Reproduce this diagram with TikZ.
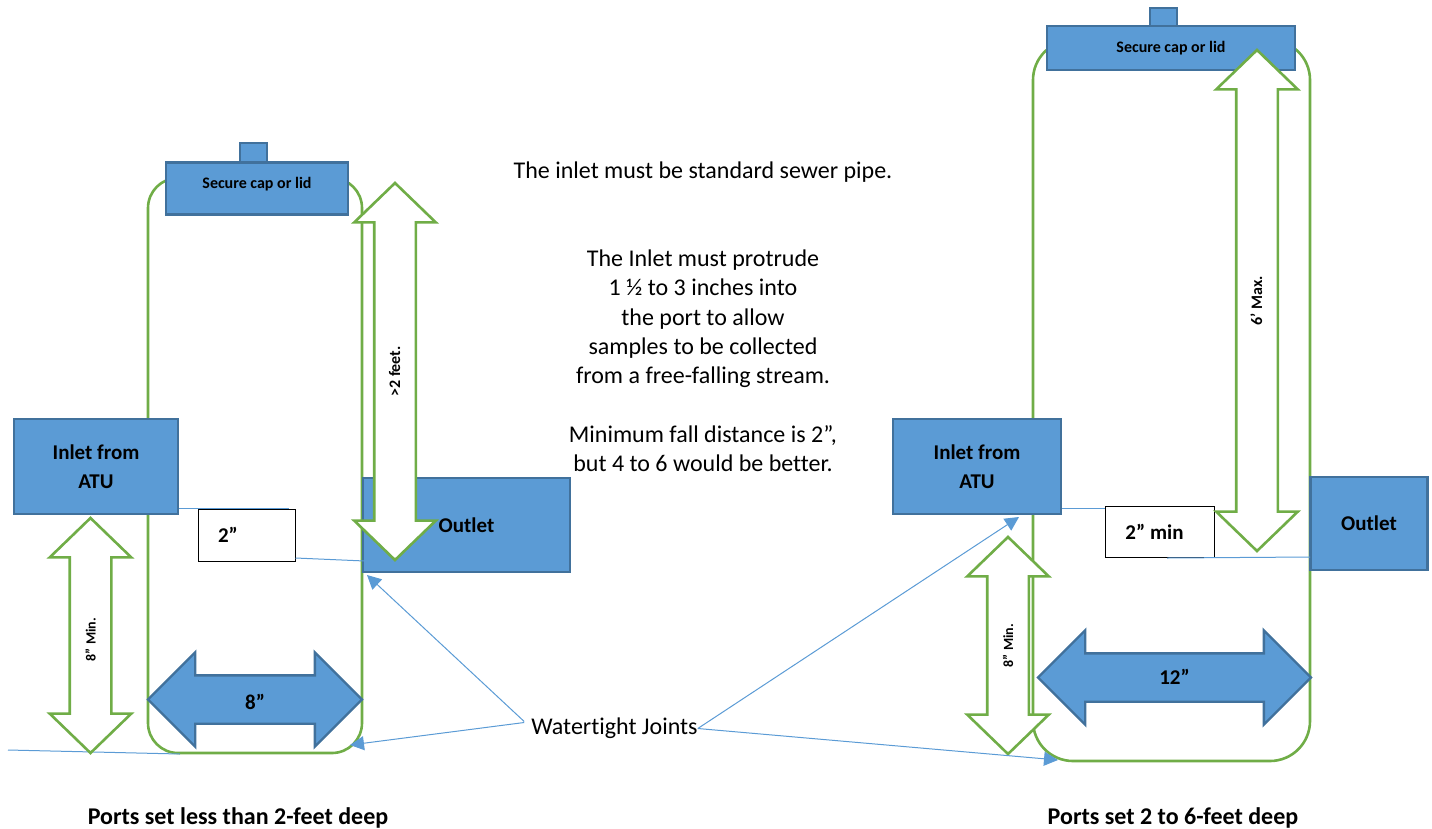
\documentclass[tikz,border=0pt]{standalone}
\usepackage{fontspec}
\setmainfont[Ligatures=NoCommon]{Carlito}
\usepackage{tikz}
\usetikzlibrary{shapes,arrows.meta}

\definecolor{portBlue}{HTML}{5B9BD5}
\definecolor{portEdge}{HTML}{41719C}
\definecolor{portGreen}{HTML}{70AD47}

\begin{document}
\begin{tikzpicture}[x=1pt,y=-1pt]
    \tikzset{Tubo/.style = {shape=rectangle,draw=portGreen,line width=2.6pt,inner sep=0pt}}
    \tikzset{Bloque/.style = {shape=rectangle,draw=portEdge,fill=portBlue,line width=2.4pt,inner sep=0pt,font=\bfseries\fontsize{21}{29}\selectfont,align=center}}
    \tikzset{Tapa/.style = {Bloque,font=\bfseries\fontsize{16}{18}\selectfont}}
    \tikzset{Caja/.style = {shape=rectangle,draw=black,fill=white,line width=1pt,inner sep=0pt,font=\bfseries\fontsize{21}{24}\selectfont}}
    \tikzset{Medida/.style = {shape=double arrow,draw=portGreen,fill=white,line width=2.6pt,inner xsep=0pt,inner ysep=0pt,double arrow head indent=0pt,double arrow head extend=20pt,double arrow tip angle=92,text height=24.5pt,text depth=14.5pt,font=\bfseries\fontsize{16}{18}\selectfont}}
    \tikzset{MedidaMin/.style = {Medida,rotate=90,font=\bfseries\fontsize{14}{16}\selectfont}}
    \tikzset{Ancho/.style = {shape=double arrow,draw=portEdge,fill=portBlue,line width=2.4pt,inner xsep=0pt,inner ysep=0pt,double arrow head indent=0pt,double arrow head extend=23pt,double arrow tip angle=90,text height=30pt,text depth=16pt,font=\bfseries\fontsize{21}{24}\selectfont}}
    \tikzset{Texto/.style = {align=center,inner sep=0pt,font=\fontsize{24}{29.3}\selectfont}}
    \tikzset{Titulo/.style = {inner sep=0pt,font=\bfseries\fontsize{24}{26}\selectfont}}

    \tikzset{fina/.style = {draw=portBlue,line width=1pt}}
    \tikzset{flecha/.style = {fina,-{Triangle[length=14pt,width=14pt]},portBlue}}

    \useasboundingbox (0,0) rectangle (1432,828);

    %Puerto poco profundo
    \draw[Tubo,rounded corners=30pt] (148,178) rectangle (362,753);
    \node[Bloque,minimum width=27pt,minimum height=20pt] (knobA) at (253.5,153) {};
    \node[Tapa,minimum width=182pt,minimum height=52pt,text height=12pt,text depth=12pt] (capA) at (257,188.5) {Secure cap or lid};
    \node[Bloque,minimum width=164pt,minimum height=95pt] (inletA) at (96,466.5) {Inlet from\\ATU};
    \node[Bloque,minimum width=207pt,minimum height=94pt] (outletA) at (466.5,525) {Outlet};

    \node[Caja,minimum width=97pt,minimum height=52pt,text width=57pt] (gapA) at (246.5,535) {2”};
    \coordinate (gapAtop) at (289,508);
    \coordinate (wallA) at (365,561);
    \coordinate (floorAleft) at (8,750);
    \coordinate (floorAright) at (180,754);
    \draw[fina] (inletA.south east |- gapAtop) to (gapAtop);
    \draw[fina] (gapA.east |- 0,558) to (wallA);
    \draw[fina] (floorAleft) to (floorAright);

    \node[MedidaMin,minimum height=235pt] (minA) at (90.5,635.5) {8” Min.\hspace*{8pt}};
    \node[Medida,rotate=90,minimum height=377pt] (depthA) at (395,371.5) {>2 feet.};
    \node[Ancho,minimum height=214pt] (widthA) at (255,699.5) {\raisebox{-3pt}[0pt][0pt]{8”}};

    %Puerto profundo
    \draw[Tubo,rounded corners=40pt] (1033,40) rectangle (1310,761);
    \node[Bloque,minimum width=27pt,minimum height=20pt] (knobB) at (1163.5,18) {};
    \node[Tapa,minimum width=248pt,minimum height=44pt] (capB) at (1171,48) {Secure cap or lid};
    \node[Bloque,minimum width=168pt,minimum height=95pt] (inletB) at (977,466.5) {Inlet from\\ATU};
    \node[Bloque,minimum width=117pt,minimum height=93pt] (outletB) at (1369,523.5) {Outlet};

    \node[Caja,minimum width=109pt,minimum height=51pt] (gapB) at (1159.5,531.5) {2” min\hspace*{10pt}};
    \coordinate (wallB) at (1310,557);
    \coordinate (gapBlow) at (1167,558);
    \draw[fina] (inletB.south east |- 0,508) to (gapB.west |- 0,508);
    \draw[fina] (gapBlow) to (wallB);

    \node[Medida,rotate=90,minimum height=501pt] (depthB) at (1257,300.5) {6’ Max.};
    \node[MedidaMin,minimum height=217pt] (minB) at (1008,645.5) {8” Min.};
    \node[Ancho,minimum height=273pt] (widthB) at (1174.5,677.5) {12”};

    %Notas del centro
    \node[Texto] (noteSewer) at (703,172) {The inlet must be standard sewer pipe.};
    \node[Texto] (noteProtrude) at (703,319) {The Inlet must protrude\\1 ½ to 3 inches into\\the port to allow\\samples to be collected\\from a free-falling stream.};
    \node[Texto] (noteFall) at (703,448.5) {Minimum fall distance is 2”,\\but 4 to 6 would be better.};

    %Juntas
    \node[Texto] (joints) at (614.5,728.5) {Watertight Joints};
    \coordinate (jointA1) at (367,575);
    \coordinate (jointA2) at (350,745);
    \coordinate (jointB1) at (1019,517);
    \coordinate (jointB2) at (1058,760);
    \draw[flecha] (joints.west) ++(-7,-7) to (jointA1);
    \draw[flecha] (joints.west) ++(-7,-6) to (jointA2);
    \draw[flecha] (joints.east) to (jointB1);
    \draw[flecha] (joints.east) to (jointB2);

    \node[Titulo] (captionA) at (238,817.5) {Ports set less than 2-feet deep};
    \node[Titulo] (captionB) at (1173,817.5) {Ports set 2 to 6-feet deep};
\end{tikzpicture}
\end{document}
